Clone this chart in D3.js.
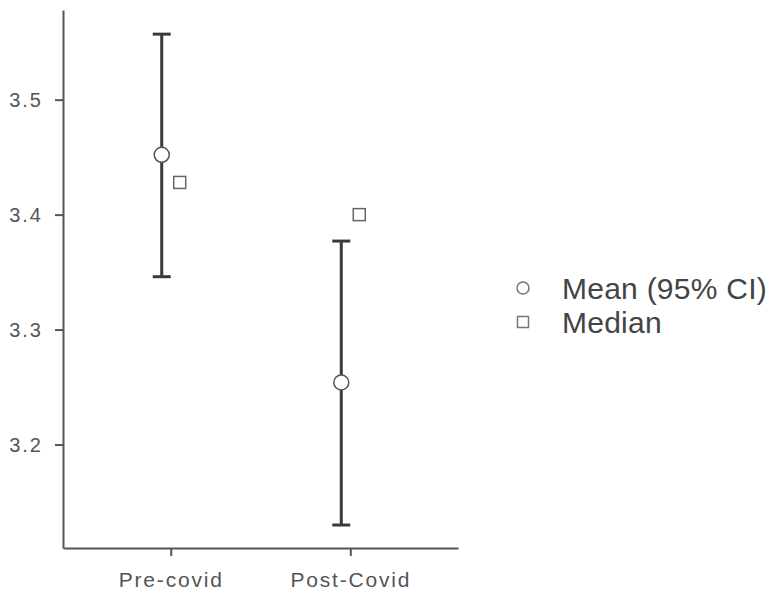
<!DOCTYPE html>
<html>
<head>
<meta charset="utf-8">
<script src="https://cdn.jsdelivr.net/npm/d3@7"></script>
<style>
  body { margin: 0; background: #fff; }
  svg text { font-family: "Liberation Sans", Arial, sans-serif; }
</style>
</head>
<body>
<svg id="chart" width="775" height="594"></svg>
<script>
// values
const groups = ["Pre-covid", "Post-Covid"];
const means = [3.452, 3.254];
const ciLower = [3.346, 3.130];
const ciUpper = [3.557, 3.377];
const medians = [3.428, 3.400];
const yTicks = [3.2, 3.3, 3.4, 3.5];
const legendItems = ["Mean (95% CI)", "Median"];

const svg = d3.select("#chart");
const plot = { left: 63, right: 458, top: 10, bottom: 548 };
const dodge = 9;

const x = d3.scalePoint()
  .domain(groups)
  .range([plot.left, plot.right])
  .padding(0.6);

const y = d3.scaleLinear()
  .domain([3.11, 3.578])
  .range([plot.bottom, plot.top]);

// y axis
const yAxis = svg.append("g")
  .attr("transform", `translate(${plot.left},0)`)
  .call(d3.axisLeft(y).tickValues(yTicks).tickFormat(d3.format(".1f")).tickSize(8).tickPadding(12).tickSizeOuter(0));

// x axis
const xAxis = svg.append("g")
  .attr("transform", `translate(0,${plot.bottom})`)
  .call(d3.axisBottom(x).tickSize(8).tickPadding(16).tickSizeOuter(0));

[yAxis, xAxis].forEach((g) => {
  g.select(".domain").attr("stroke", "#555").attr("stroke-width", 2);
  g.selectAll(".tick line").attr("stroke", "#555").attr("stroke-width", 2);
});

yAxis.selectAll(".tick text")
  .attr("fill", "#555")
  .attr("font-size", 20)
  .attr("letter-spacing", "2px")
  .attr("dy", "0.33em");

xAxis.selectAll(".tick text")
  .attr("fill", "#555")
  .attr("font-size", 21)
  .attr("letter-spacing", "1.8px")
  .attr("dy", "0.71em");

// error bars (mean dodged left, median right)
const bars = svg.append("g");
groups.forEach((g, i) => {
  const cx = x(g) - dodge;
  bars.append("line")
    .attr("x1", cx).attr("x2", cx)
    .attr("y1", y(ciLower[i])).attr("y2", y(ciUpper[i]))
    .attr("stroke", "#3a3a3a").attr("stroke-width", 3);
  [ciLower[i], ciUpper[i]].forEach((v) => {
    bars.append("line")
      .attr("x1", cx - 9).attr("x2", cx + 9)
      .attr("y1", y(v)).attr("y2", y(v))
      .attr("stroke", "#3a3a3a").attr("stroke-width", 3);
  });
});

// means
svg.append("g").selectAll("circle")
  .data(groups)
  .join("circle")
  .attr("cx", (d) => x(d) - dodge)
  .attr("cy", (d, i) => y(means[i]))
  .attr("r", 7.5)
  .attr("fill", "#fff")
  .attr("stroke", "#555")
  .attr("stroke-width", 1.5);

// medians
const sq = 12;
svg.append("g").selectAll("rect")
  .data(groups)
  .join("rect")
  .attr("x", (d) => x(d) + dodge - sq / 2)
  .attr("y", (d, i) => y(medians[i]) - sq / 2)
  .attr("width", sq)
  .attr("height", sq)
  .attr("fill", "#fff")
  .attr("stroke", "#666")
  .attr("stroke-width", 1.5);

// legend
const legend = svg.append("g").attr("transform", "translate(523,288)");
legendItems.forEach((label, i) => {
  const row = legend.append("g").attr("transform", `translate(0,${i * 34})`);
  if (i === 0) {
    row.append("circle").attr("r", 6)
      .attr("fill", "#fff").attr("stroke", "#777").attr("stroke-width", 1.5);
  } else {
    row.append("rect").attr("x", -5.5).attr("y", -5.5).attr("width", 11).attr("height", 11)
      .attr("fill", "#fff").attr("stroke", "#777").attr("stroke-width", 1.5);
  }
  row.append("text")
    .attr("x", 39)
    .attr("dy", "0.35em")
    .attr("font-size", 30)
    .attr("letter-spacing", "0.25px")
    .attr("fill", "#444")
    .text(label);
});
</script>
</body>
</html>
